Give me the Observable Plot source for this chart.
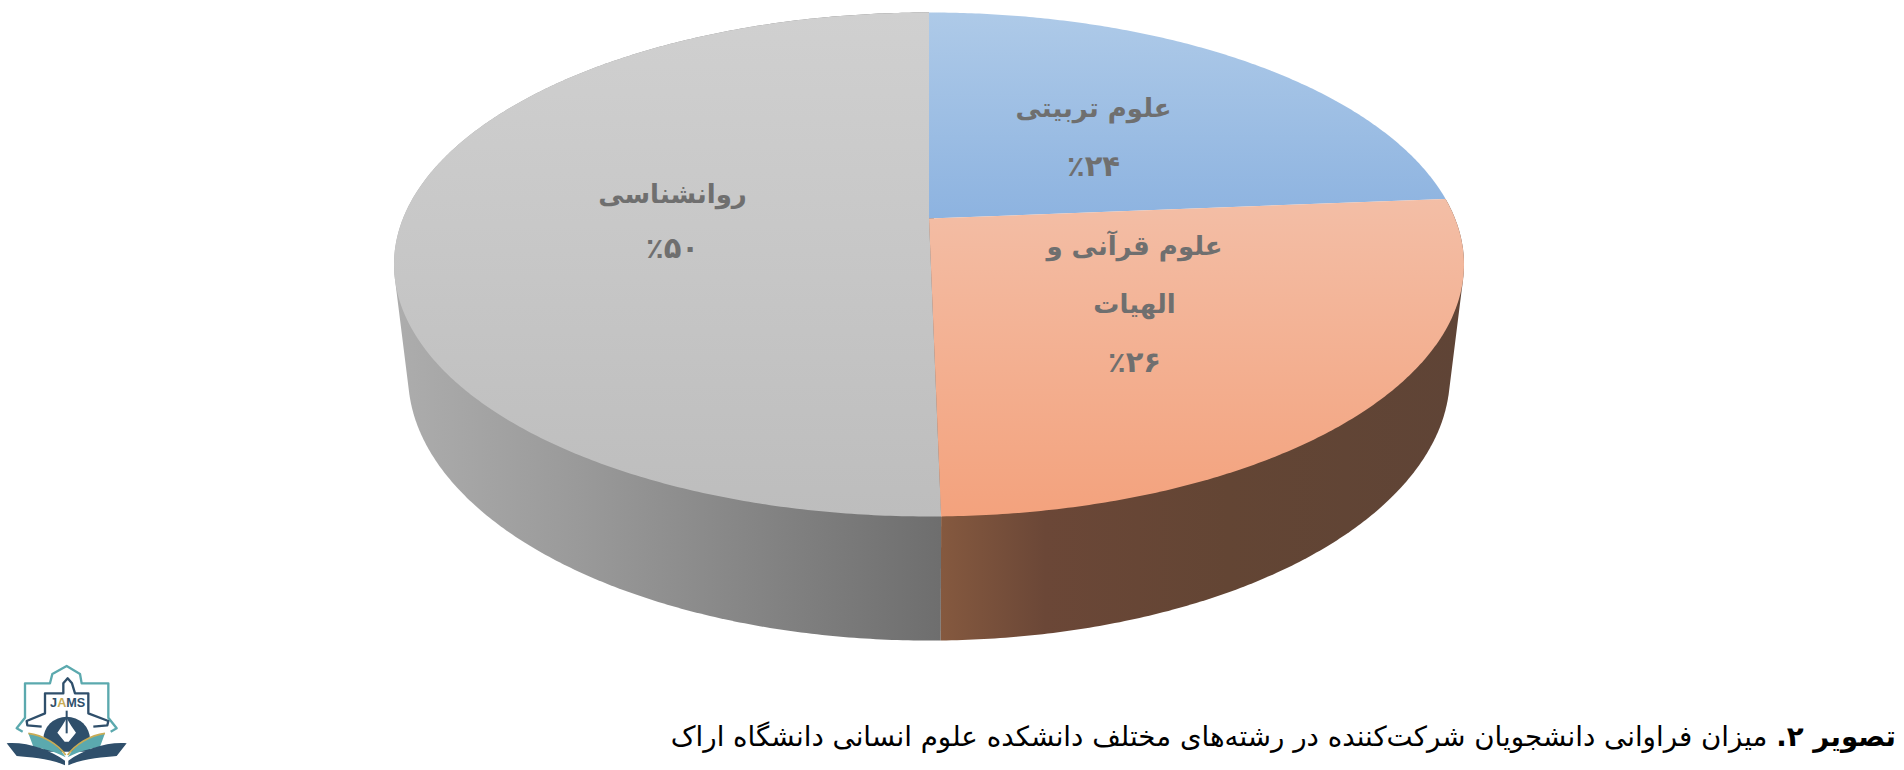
<!DOCTYPE html>
<html lang="fa">
<head>
<meta charset="utf-8">
<script src="https://cdn.jsdelivr.net/npm/d3@7"></script>
<script src="https://cdn.jsdelivr.net/npm/@observablehq/plot@0.6"></script>
<style>
html,body{margin:0;padding:0;background:#fff;width:1904px;height:770px;overflow:hidden;position:relative}
#chart{position:absolute;left:0;top:0}
#caption{position:absolute;right:8px;top:717px;direction:rtl;white-space:nowrap;font-family:"DejaVu Sans",sans-serif;font-size:27.7px;line-height:40px;color:#000}
#logo{position:absolute;left:0;top:650px}
</style>
</head>
<body>
<div id="chart"></div>
<svg id="logo" width="140" height="120" viewBox="0 0 420 360" xmlns="http://www.w3.org/2000/svg">
  <path d="M68 245 L50 235 L75 203 L75 100 L150 100 L157 72 L200 48 L240 72 L245 100 L325 100 L325 203 L350 235 L332 245" fill="none" stroke="#5ba9ae" stroke-width="7" stroke-linejoin="round"/>
  <path d="M125 230 L82 226 L80 213 L135 190 L135 130 L190 130 L190 100 L203 85 L216 100 L225 130 L265 130 L265 190 L325 213 L322 226 L280 230" fill="none" stroke="#2f4f6b" stroke-width="7" stroke-linejoin="round"/>
  <path d="M130 268 A70 68 0 0 1 270 268 L270 305 L130 305 Z" fill="#2f4f6b"/>
  <path d="M200 205 L214 228 L228 248 L206 275 L194 275 L172 248 L186 228 Z" fill="#fff"/>
  <path d="M200 182 L200 250" fill="none" stroke="#2f4f6b" stroke-width="6"/>
  <path d="M85 250 C130 255 175 285 197 322 C160 300 120 295 100 290 Z" fill="#5ba9ae"/>
  <path d="M315 250 C270 255 225 285 203 322 C240 300 280 295 300 290 Z" fill="#5ba9ae"/>
  <path d="M85 250 C130 255 175 285 197 315" fill="none" stroke="#c9ac55" stroke-width="5"/>
  <path d="M315 250 C270 255 225 285 203 315" fill="none" stroke="#c9ac55" stroke-width="5"/>
  <path d="M20 280 C80 275 150 300 195 332 L195 346 C150 325 90 322 50 318 Z" fill="#2f4f6b"/>
  <path d="M380 280 C320 275 250 300 205 332 L205 346 C250 325 310 322 350 318 Z" fill="#2f4f6b"/>
  <text x="203" y="172" text-anchor="middle" font-family="'Liberation Sans',sans-serif" font-weight="700" font-size="38" fill="#2f4f6b">J<tspan fill="#c9ac55">A</tspan>MS</text>
</svg>
<div id="caption"><b>تصویر ۲.</b> میزان فراوانی دانشجویان شرکت‌کننده در رشته‌های مختلف دانشکده علوم انسانی دانشگاه اراک</div>
<script>
// Data
const categories = ["علوم تربیتی", "علوم قرآنی و الهیات", "روانشناسی"];
const sliceShares = [23.7, 26, 50.3];          // drawn angular shares (%)
const labelLines = [
  ["علوم تربیتی", "٪۲۴"],
  ["علوم قرآنی و", "الهیات", "٪۲۶"],
  ["روانشناسی", "٪۵۰"]
];
const labelX = [1093, 1134, 672];
const labelY = [[108, 166], [246, 304, 362], [194, 248]];

const WIDTH = 1904, HEIGHT = 650;
// Perspective view of a cylinder: u across, v towards the viewer, h downwards.
const cam = {cx: 928.5, cy: 218, R: 526, S: 243.6, T: 112.4, k: 0.1825, m: 0.026};
function project(turn, h) {
  const a = turn * 2 * Math.PI, u = Math.sin(a), v = -Math.cos(a);
  const w = 1 - cam.k * v + cam.m * h;
  return {px: cam.cx + cam.R * u / w, py: cam.cy + (cam.S * v + cam.T * h) / w};
}
function rim(t0, t1, h) {
  const n = Math.max(2, Math.ceil((t1 - t0) * 720));
  return d3.range(n + 1).map(i => project(t0 + (t1 - t0) * i / n, h));
}
const total = d3.sum(sliceShares);
const edges = [0, ...d3.cumsum(sliceShares)].map(d => d / total);
const apex = {px: cam.cx, py: cam.cy};
const topFace = i => [apex, ...rim(edges[i], edges[i + 1], 0)];
// The wall of a slice is the convex hull of its upper and lower rims, so its outer edge is the straight tangent.
const sideFace = i => d3.polygonHull(
  [...rim(edges[i], edges[i + 1], 0), ...rim(edges[i], edges[i + 1], 1)].map(p => [p.px, p.py])
).map(([px, py]) => ({px, py}));

const grad = (id, vertical, stops) => {
  const g = d3.create("svg:linearGradient").attr("id", id)
    .attr("x1", 0).attr("y1", 0).attr("x2", vertical ? 0 : 1).attr("y2", vertical ? 1 : 0);
  stops.forEach(([o, c]) => g.append("stop").attr("offset", o).attr("stop-color", c));
  return g.node();
};
const defs = () => {
  const d = d3.create("svg:defs");
  [
    grad("topBlue", true, [[0, "#aecae8"], [1, "#8db3e0"]]),
    grad("topOrange", true, [[0, "#f3bea6"], [1, "#f3a27d"]]),
    grad("topGray", true, [[0, "#d0d0d0"], [1, "#bdbdbd"]]),
    grad("sideOrange", false, [[0, "#85593f"], [0.2, "#6b4737"], [0.55, "#634534"], [1, "#5f4436"]]),
    grad("sideGray", false, [[0, "#adadad"], [0.35, "#999999"], [0.7, "#828282"], [1, "#6e6e6e"]])
  ].forEach(n => d.node().appendChild(n));
  return d.node();
};
const face = (pts, fill) => Plot.line(pts, {x: "px", y: "py", fill, stroke: "none", curve: "linear"});

const labels = labelLines.flatMap((lines, i) =>
  lines.map((text, j) => ({text, x: labelX[i], y: labelY[i][j], isPercent: j === lines.length - 1})));
const textStyle = {
  x: "x", y: "y", text: "text", fill: "#6f6f6f", fontWeight: 700,
  fontFamily: "'DejaVu Sans', sans-serif", textAnchor: "middle", lineAnchor: "middle"
};

const chart = Plot.plot({
  width: WIDTH, height: HEIGHT,
  margin: 0,
  x: {domain: [0, WIDTH], range: [0, WIDTH], axis: null},
  y: {domain: [0, HEIGHT], range: [0, HEIGHT], axis: null},
  style: {background: "transparent", direction: "rtl"},
  marks: [
    defs,
    face(sideFace(2), "url(#sideGray)"),
    face(sideFace(1), "url(#sideOrange)"),
    face(topFace(2), "url(#topGray)"),
    face(topFace(0), "url(#topBlue)"),
    face(topFace(1), "url(#topOrange)"),
    Plot.text(labels.filter(d => !d.isPercent), {...textStyle, fontSize: 26}),
    Plot.text(labels.filter(d => d.isPercent), {...textStyle, fontSize: 29})
  ]
});
document.getElementById("chart").appendChild(chart);
</script>
</body>
</html>
